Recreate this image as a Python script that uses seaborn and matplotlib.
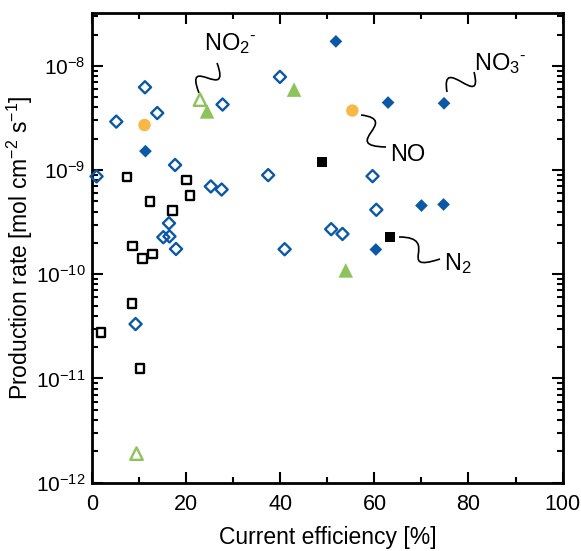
import numpy as np
import pandas as pd
import matplotlib
matplotlib.use("Agg")
import matplotlib.pyplot as plt
import matplotlib.ticker as mticker
from matplotlib.path import Path
from matplotlib.patches import PathPatch
import seaborn as sns

# data: current efficiency [%] and production rate [mol cm-2 s-1]
no3_filled_ce = [51.8, 62.9, 74.8, 11.3, 70.0, 74.7, 60.3]
no3_filled_rate = [1.72e-8, 4.45e-9, 4.38e-9, 1.52e-9, 4.57e-10, 4.68e-10, 1.73e-10]

no3_open_ce = [39.9, 11.2, 27.7, 13.8, 5.1, 17.6, 0.9, 37.4, 25.2, 27.5,
               16.3, 59.6, 60.4, 50.8, 53.2, 15.1, 16.4, 17.8, 40.9, 9.2]
no3_open_rate = [7.84e-9, 6.24e-9, 4.26e-9, 3.53e-9, 2.92e-9, 1.12e-9, 8.7e-10, 8.95e-10, 6.97e-10, 6.51e-10,
                 3.09e-10, 8.75e-10, 4.16e-10, 2.71e-10, 2.44e-10, 2.27e-10, 2.31e-10, 1.75e-10, 1.74e-10, 3.33e-11]

no2_filled_ce = [42.9, 24.4, 53.9]
no2_filled_rate = [5.93e-9, 3.66e-9, 1.09e-10]

no2_open_ce = [22.9, 9.4]
no2_open_rate = [4.75e-9, 1.9e-12]

no_ce = [11.1, 55.3]
no_rate = [2.71e-9, 3.73e-9]

n2_filled_ce = [48.9, 63.3]
n2_filled_rate = [1.19e-9, 2.29e-10]

n2_open_ce = [7.4, 20.0, 20.8, 12.3, 17.0, 8.6, 10.7, 12.8, 8.4, 1.8, 10.1]
n2_open_rate = [8.58e-10, 8.0e-10, 5.71e-10, 4.97e-10, 4.09e-10, 1.86e-10, 1.42e-10, 1.56e-10, 5.22e-11, 2.75e-11, 1.24e-11]

blue = '#0A58A6'
green = '#8DC35A'
orange = '#F8B746'
black = '#000000'

sns.set_style('ticks', {'axes.edgecolor': 'black', 'xtick.color': 'black', 'ytick.color': 'black',
                        'text.color': 'black', 'axes.labelcolor': 'black'})
plt.rcParams['font.family'] = ['Liberation Sans', 'DejaVu Sans']
plt.rcParams['mathtext.fontset'] = 'custom'
plt.rcParams['mathtext.rm'] = 'Liberation Sans'
plt.rcParams['mathtext.it'] = 'Liberation Sans:italic'
plt.rcParams['mathtext.bf'] = 'Liberation Sans:bold'

fig = plt.figure(figsize=(5.81, 5.51), dpi=100)
ax = fig.add_axes([0.1589, 0.124, 0.8093, 0.8524])

series = [
    (no3_open_ce, no3_open_rate, 'D', blue, 'none', 38),
    (n2_open_ce, n2_open_rate, 's', black, 'none', 38),
    (no2_open_ce, no2_open_rate, '^', green, 'none', 80),
    (no3_filled_ce, no3_filled_rate, 'D', blue, blue, 42),
    (no2_filled_ce, no2_filled_rate, '^', green, green, 110),
    (no_ce, no_rate, 'o', orange, orange, 80),
    (n2_filled_ce, n2_filled_rate, 's', black, black, 55),
]
for ce, rate, mk, ec, fc, size in series:
    df = pd.DataFrame({'ce': ce, 'rate': rate})
    if fc == 'none':
        sns.scatterplot(data=df, x='ce', y='rate', marker=mk, color=ec, facecolor='none',
                        edgecolor=ec, linewidth=1.7, s=size, ax=ax, clip_on=False, zorder=3)
    else:
        sns.scatterplot(data=df, x='ce', y='rate', marker=mk, color=fc, edgecolor='none',
                        linewidth=0, s=size, ax=ax, clip_on=False, zorder=3)

ax.set_yscale('log')
ax.set_xlim(0, 100)
ax.set_ylim(1e-12, 3.22e-8)
ax.xaxis.set_major_locator(mticker.MultipleLocator(20))
ax.xaxis.set_minor_locator(mticker.MultipleLocator(10))
ax.yaxis.set_major_locator(mticker.LogLocator(base=10, numticks=10))
ax.yaxis.set_minor_locator(mticker.LogLocator(base=10, subs=np.arange(2, 10), numticks=10))
ax.yaxis.set_minor_formatter(mticker.NullFormatter())

ax.tick_params(which='both', direction='in', top=True, right=True, width=1.5, colors='black')
ax.tick_params(axis='x', labelsize=15.5, pad=8)
ax.tick_params(axis='y', labelsize=15, pad=5)
ax.tick_params(which='major', length=8)
ax.tick_params(which='minor', length=4)
for sp in ax.spines.values():
    sp.set_linewidth(2)
    sp.set_color('black')

ax.set_xlabel('Current efficiency [%]', fontsize=16.5, labelpad=8, color='black')
ax.set_ylabel('Production rate [mol cm$^{-2}$ s$^{-1}$]', fontsize=16.5, color='black')
ax.yaxis.set_label_coords(-0.122, 0.5)


# squiggly leader lines, given in figure pixels (from top-left) -> axes fraction
def px(x, y):
    return ((x - 92.3) / 470.2, (482.7 - y) / 469.7)


def squiggle(p0, p1, p2, p3):
    verts = [px(*p0), px(*p1), px(*p2), px(*p3)]
    path = Path(verts, [Path.MOVETO, Path.CURVE4, Path.CURVE4, Path.CURVE4])
    ax.add_patch(PathPatch(path, transform=ax.transAxes, fill=False, lw=1.2,
                           color='black', clip_on=False))


squiggle((199, 93), (183, 52), (232, 104), (217, 63))
squiggle((447, 92), (440, 52), (484, 112), (474, 72))
squiggle((361, 115), (402, 120), (338, 146), (386, 147))
squiggle((399, 237), (442, 237), (394, 274), (440, 259))

lab_fs = 17
ax.text(*px(204, 50), 'NO$_2$$^{\u2010}$', transform=ax.transAxes, fontsize=lab_fs, ha='left', va='baseline')
ax.text(*px(474, 70), 'NO$_3$$^{\u2010}$', transform=ax.transAxes, fontsize=lab_fs, ha='left', va='baseline')
ax.text(*px(390, 161), 'NO', transform=ax.transAxes, fontsize=lab_fs, ha='left', va='baseline')
ax.text(*px(444, 270), 'N$_2$', transform=ax.transAxes, fontsize=lab_fs, ha='left', va='baseline')

fig.savefig('out.png', dpi=100)
